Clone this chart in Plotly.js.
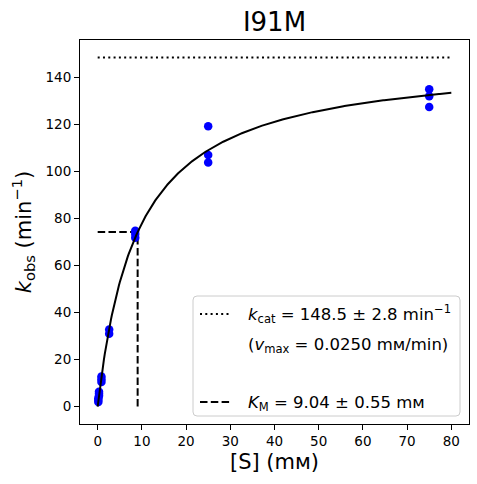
<!DOCTYPE html>
<html>
<head>
<meta charset="utf-8">
<script src="https://cdn.plot.ly/plotly-3.0.1.min.js"></script>
<style>html,body{margin:0;padding:0;background:#fff;}#chart{width:477px;height:484px;}</style>
</head>
<body>
<div id="chart"></div>
<script>
// Measured substrate concentrations (mM) and observed rates (min^-1)
const substrate = [0.15, 0.15, 0.15, 0.3, 0.3, 0.3, 0.85, 0.85, 0.85, 2.6, 2.6, 8.5, 8.5, 8.5, 25, 25, 25, 75, 75, 75];
const kobs      = [2.0, 2.8, 3.6, 4.6, 5.5, 6.3, 10.5, 11.6, 12.8, 31.0, 32.8, 71.8, 73.4, 74.8, 103.8, 107.0, 119.2, 127.4, 132.0, 135.0];

// Fitted Michaelis-Menten parameters
const kcat = 148.5;
const KM = 9.04;
const fitRange = [0, 80];

const xTicks = [0, 10, 20, 30, 40, 50, 60, 70, 80];
const yTicks = [0, 20, 40, 60, 80, 100, 120, 140];

// fitted curve from the fitted parameters
const fitS = [];
const fitK = [];
for (let i = 0; i <= 400; i++) {
  const s = fitRange[0] + (fitRange[1] - fitRange[0]) * i / 400;
  fitS.push(s);
  fitK.push(kcat * s / (KM + s));
}

const font = "DejaVu Sans, sans-serif";
const dashed = '7.5px,3.3px';
const dotted = '2px,3.3px';

const traces = [
  {x: [fitRange[0], fitRange[1]], y: [kcat, kcat], mode: 'lines', line: {color: 'black', width: 2, dash: dotted}, showlegend: false, hoverinfo: 'skip'},
  {x: [fitRange[0], KM], y: [kcat / 2, kcat / 2], mode: 'lines', line: {color: 'black', width: 2, dash: dashed}, showlegend: false, hoverinfo: 'skip'},
  {x: [KM, KM], y: [0, kcat / 2], mode: 'lines', line: {color: 'black', width: 2, dash: dashed}, showlegend: false, hoverinfo: 'skip'},
  {x: substrate, y: kobs, mode: 'markers', marker: {color: 'blue', size: 8.5}, showlegend: false},
  {x: fitS, y: fitK, mode: 'lines', line: {color: 'black', width: 2}, showlegend: false, hoverinfo: 'skip'}
];

// plot area in pixels: x 80..469, y 40..424
const L = 80, R = 469, T = 40, B = 424;
const px = v => (v - L) / (R - L);
const py = v => (B - v) / (B - T);

// legend box with rounded corners
const bx0 = px(193), bx1 = px(460), by0 = py(416), by1 = py(296);
const rx = 4 / (R - L), ry = 4 / (B - T);
const boxPath = `M ${bx0 + rx} ${by0} L ${bx1 - rx} ${by0} Q ${bx1} ${by0} ${bx1} ${by0 + ry} L ${bx1} ${by1 - ry} Q ${bx1} ${by1} ${bx1 - rx} ${by1} L ${bx0 + rx} ${by1} Q ${bx0} ${by1} ${bx0} ${by1 - ry} L ${bx0} ${by0 + ry} Q ${bx0} ${by0} ${bx0 + rx} ${by0} Z`;

const legendTexts = [
  {y: 314, text: '<i>k</i><sub>cat</sub> = 148.5 ± 2.8 min<sup>−1</sup>'},
  {y: 345, text: '(<i>v</i><sub>max</sub> = 0.0250 mᴍ/min)'},
  {y: 403, text: '<i>K</i><sub>M</sub> = 9.04 ± 0.55 mᴍ'}
];

const layout = {
  width: 477, height: 484,
  margin: {l: L, r: 477 - R, t: T, b: 484 - B, pad: 0},
  paper_bgcolor: 'white', plot_bgcolor: 'white',
  font: {family: font, color: 'black', size: 13},
  title: {text: 'I91M', font: {family: font, size: 26, color: 'black'}, x: (L + R) / 2 / 477, xanchor: 'center', y: 1 - 22 / 484, yanchor: 'middle'},
  xaxis: {
    range: [-4, 84], tickvals: xTicks, ticktext: xTicks.map(String),
    ticks: 'outside', ticklen: 5, tickwidth: 1, tickcolor: 'black',
    showline: true, linecolor: 'black', linewidth: 1, mirror: true,
    showgrid: false, zeroline: false,
    tickfont: {family: font, size: 13.5},
    title: {text: '[S] (mᴍ)', font: {family: font, size: 21}, standoff: 6}
  },
  yaxis: {
    range: [-7.4, 155.9], tickvals: yTicks, ticktext: yTicks.map(String),
    ticks: 'outside', ticklen: 5, tickwidth: 1, tickcolor: 'black',
    showline: true, linecolor: 'black', linewidth: 1, mirror: true,
    showgrid: false, zeroline: false,
    tickfont: {family: font, size: 13.5},
    title: {text: '<i>k</i><sub>obs</sub> (min<sup>−1</sup>)', font: {family: font, size: 21}, standoff: 8}
  },
  shapes: [
    {type: 'path', xref: 'paper', yref: 'paper', path: boxPath, fillcolor: 'rgba(255,255,255,0.8)', line: {color: '#cccccc', width: 1}},
    {type: 'line', xref: 'paper', yref: 'paper', x0: px(200), x1: px(230), y0: py(314), y1: py(314), line: {color: 'black', width: 2, dash: dotted}},
    {type: 'line', xref: 'paper', yref: 'paper', x0: px(200), x1: px(231), y0: py(402), y1: py(402), line: {color: 'black', width: 2, dash: dashed}}
  ],
  annotations: legendTexts.map(t => ({
    xref: 'paper', yref: 'paper', x: px(246), y: py(t.y), xanchor: 'left', yanchor: 'middle',
    text: t.text, showarrow: false, font: {family: font, size: 16.5, color: 'black'}
  }))
};

Plotly.newPlot('chart', traces, layout, {staticPlot: true, displayModeBar: false});
</script>
</body>
</html>
